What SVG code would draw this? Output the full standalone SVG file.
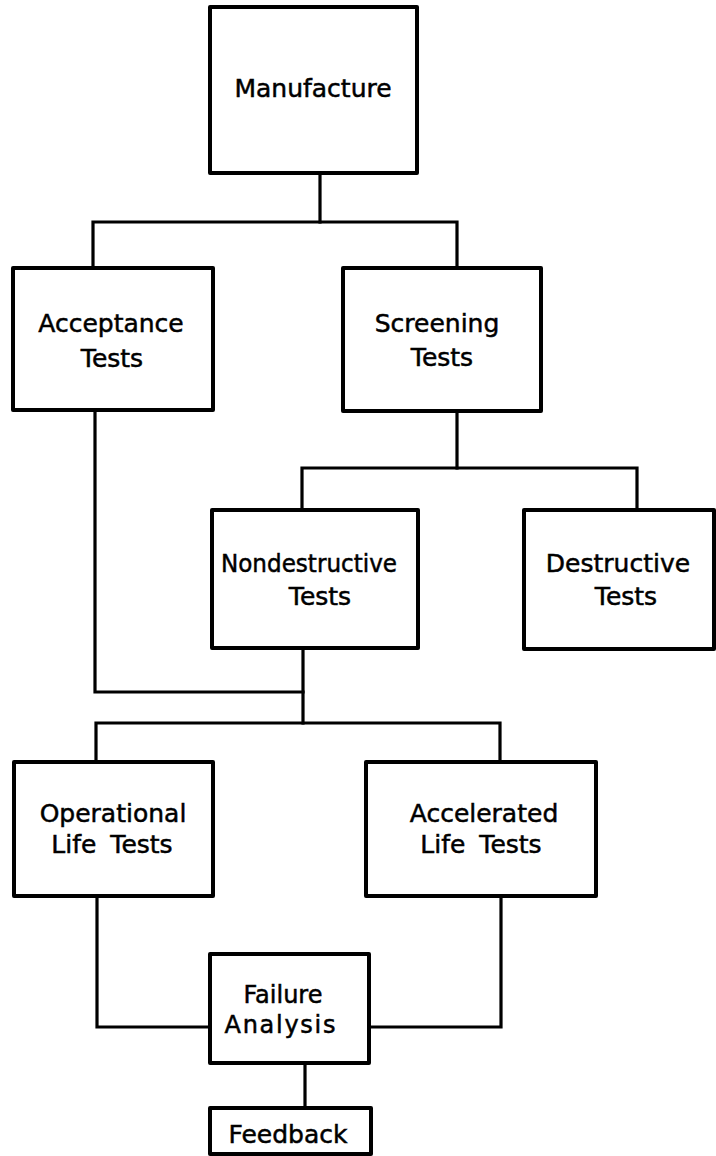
<svg xmlns="http://www.w3.org/2000/svg" width="716" height="1156" viewBox="0 0 716 1156">
<style>
  .box { fill: #ffffff; stroke: #000000; stroke-width: 4; stroke-linejoin: round; }
  .wire { fill: none; stroke: #000000; stroke-width: 3.2; stroke-linejoin: miter; stroke-linecap: square; }
  .lbl { font-family: "DejaVu Sans", "Liberation Sans", sans-serif; font-size: 25px; fill: #000000; stroke: #000000; stroke-width: 0.5; text-anchor: middle; }
</style>
<rect x="0" y="0" width="716" height="1156" fill="#ffffff"/>
<g id="connectors">
  <path class="wire" d="M320 173 V222"/>
  <path class="wire" d="M93 268 V222 H457 V268"/>
  <path class="wire" d="M95 410 V692 H303"/>
  <path class="wire" d="M457 410 V468"/>
  <path class="wire" d="M302 510 V468 H637 V510"/>
  <path class="wire" d="M303 648 V723"/>
  <path class="wire" d="M96 762 V723 H500 V762"/>
  <path class="wire" d="M97 896 V1027 H210"/>
  <path class="wire" d="M501 896 V1027 H369"/>
  <path class="wire" d="M305 1063 V1108"/>
</g>
<g id="manufacture">
  <rect class="box" x="210" y="7" width="207" height="166"/>
  <text class="lbl" x="313" y="97">Manufacture</text>
</g>
<g id="acceptance">
  <rect class="box" x="13" y="268" width="200" height="142"/>
  <text class="lbl" x="111" y="332">Acceptance</text>
  <text class="lbl" x="112" y="367">Tests</text>
</g>
<g id="screening">
  <rect class="box" x="343" y="268" width="198" height="143"/>
  <text class="lbl" x="437" y="332">Screening</text>
  <text class="lbl" x="442" y="366">Tests</text>
</g>
<g id="nondestructive">
  <rect class="box" x="212" y="510" width="206" height="138"/>
  <text class="lbl" x="309" y="572" textLength="176" lengthAdjust="spacingAndGlyphs">Nondestructive</text>
  <text class="lbl" x="320" y="605">Tests</text>
</g>
<g id="destructive">
  <rect class="box" x="524" y="510" width="190" height="139"/>
  <text class="lbl" x="618" y="572">Destructive</text>
  <text class="lbl" x="626" y="605">Tests</text>
</g>
<g id="operational">
  <rect class="box" x="14" y="762" width="199" height="134"/>
  <text class="lbl" x="113" y="822">Operational</text>
  <text class="lbl" x="112" y="853" style="word-spacing:6px">Life Tests</text>
</g>
<g id="accelerated">
  <rect class="box" x="366" y="762" width="230" height="134"/>
  <text class="lbl" x="484" y="822">Accelerated</text>
  <text class="lbl" x="481" y="853" style="word-spacing:6px">Life Tests</text>
</g>
<g id="failure">
  <rect class="box" x="210" y="954" width="159" height="109"/>
  <text class="lbl" x="283" y="1003" style="font-size:24px">Failure</text>
  <text class="lbl" x="280" y="1033" style="font-size:24px" textLength="111" lengthAdjust="spacing">Analysis</text>
</g>
<g id="feedback">
  <rect class="box" x="210" y="1108" width="161" height="46"/>
  <text class="lbl" x="288" y="1143">Feedback</text>
</g>
</svg>
